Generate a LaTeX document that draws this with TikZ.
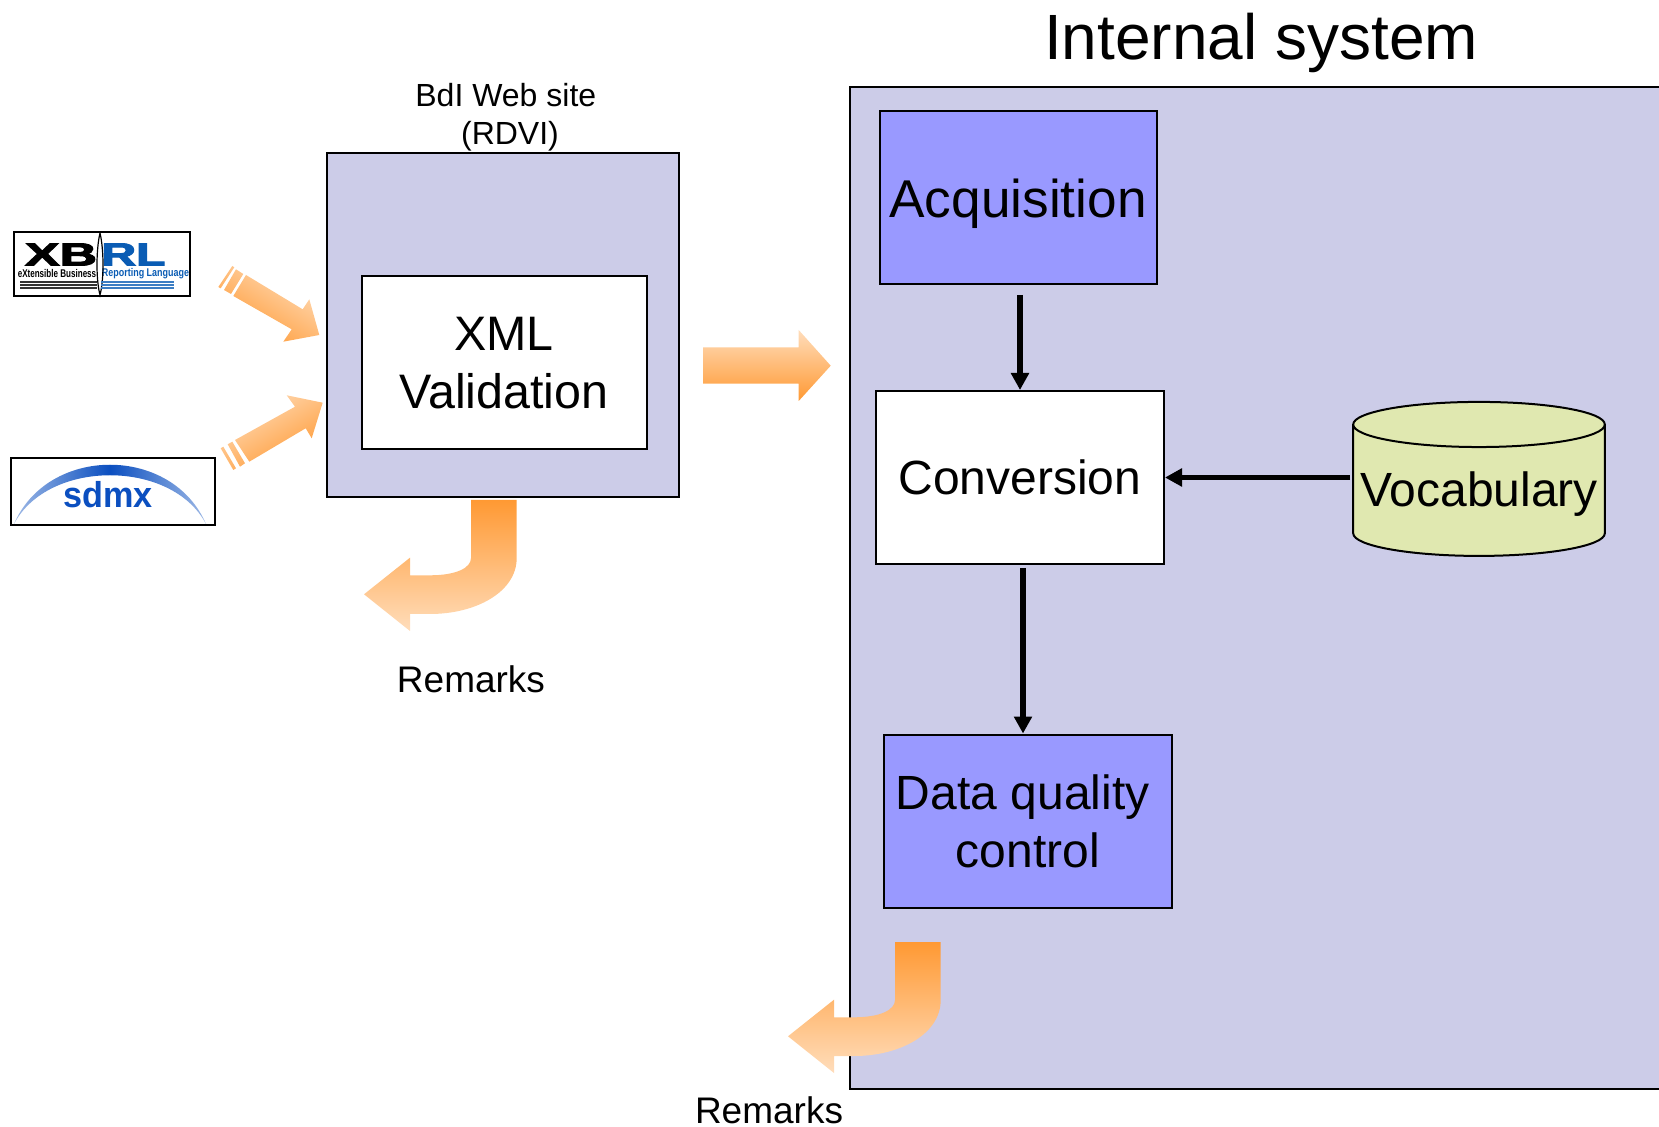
\documentclass[tikz,border=0pt]{standalone}
\usepackage{fontspec}
\setmainfont{Liberation Sans}
\newfontfamily\heavyfont[UprightFont=* Bold,FakeBold=3]{Liberation Sans}
\usetikzlibrary{positioning,shapes.geometric,arrows.meta}

\definecolor{panel}{HTML}{CCCCE8}
\definecolor{stage}{HTML}{9999FF}
\definecolor{store}{HTML}{E0E8B0}
\definecolor{glowdark}{HTML}{FF9933}
\definecolor{glowlight}{HTML}{FFDDBB}
\definecolor{xbrlblue}{HTML}{0A5CB4}
\definecolor{sdmxblue}{HTML}{0B4FC0}

\tikzset{
  box/.style={draw,line width=1pt,inner sep=0pt,align=center,minimum width=#1,minimum height=86.5pt,font=\fontsize{24}{29}\selectfont},
  flow/.style={-{Triangle[length=8.5pt,width=8.7pt]},line width=2.6pt},
  caption/.style={inner sep=0pt,align=center},
  remarkarrow/.pic={
    \shade[top color=glowdark,bottom color=glowlight]
      (0,0) -- (45.7,0) -- (45.7,58) .. controls (45.7,92) and (5,114) .. (-41,114)
      -- (-61,114) -- (-61,131) -- (-107,94.3) -- (-61,57.7) -- (-61,75.3) -- (-41,75.3)
      .. controls (-15,75.3) and (0,68) .. (0,58) -- cycle;
  }
}

\begin{document}
\begin{tikzpicture}[x=0.5pt,y=-0.5pt,on grid]
  \useasboundingbox (0,0) rectangle (1659,1127);

  % panels
  \node[draw,fill=panel,line width=1pt,minimum width=408pt,minimum height=501pt] (internal) at (1258,588) {};
  \node[draw,fill=panel,line width=1pt,minimum width=176pt,minimum height=172pt] (website) at (503,325) {};

  \node[caption,font=\fontsize{32}{38}\selectfont] (title) at (1261,43) {Internal system};
  \node[caption,font=\fontsize{16}{19}\selectfont] (sitename) at (510,117) {BdI Web site\kern 4.2pt\\ (RDVI)};

  % stages
  \node[box=142.5pt,fill=white,font=\fontsize{24.2}{29}\selectfont] (xml) [below=19pt of website,xshift=0.5pt] {XML\\Validation};
  \node[box=138.5pt,fill=stage,font=\fontsize{26.6}{32}\selectfont] (acq) at (1018,197.5) {\raisebox{-3.2pt}[\height][\depth]{Acquisition}};
  \node[box=144pt,fill=white] (conv) [below=140pt of acq,xshift=1pt] {Conversion};
  \node[box=144pt,fill=stage] (quality) [below=171.75pt of conv,xshift=4pt] {Data quality\kern 5.3pt\\control};
  \node[cylinder,draw,line width=1pt,shape border rotate=90,aspect=0.19,cylinder uses custom fill,
        cylinder body fill=store,cylinder end fill=store,inner sep=0pt,
        minimum width=125.8pt,minimum height=77pt,font=\fontsize{24}{29}\selectfont] (vocab)
        [right=229.5pt of conv,yshift=-6.6pt] {\raisebox{-1.9pt}[\height][\depth]{Vocabulary}};

  \draw[flow,shorten <=5pt] (conv.north |- acq.south) -- (conv.north);
  \draw[flow,shorten <=1pt] (vocab.west |- conv.east) -- (conv.east);
  \draw[flow,shorten <=1.5pt] ([xshift=1.5pt]conv.south) -- ([xshift=1.5pt]conv.south |- quality.north);

  % logos
  \node[draw,fill=white,line width=1pt,minimum width=88pt,minimum height=32pt] (xbrl) at (102,264) {};
  \node[draw,fill=white,line width=1pt,minimum width=102pt,minimum height=33.5pt] (sdmx) at (113,491.5) {};
  \node[inner sep=0pt,xscale=1.62,transform shape,font=\heavyfont\fontsize{16}{16}\selectfont] (xbrlx) at (61,254.5) {XB};
  \node[inner sep=0pt,xscale=1.5,transform shape,text=xbrlblue,font=\heavyfont\fontsize{16}{16}\selectfont] (xbrlr) at (133.5,254.5) {RL};
  \node[inner sep=0pt,xscale=0.72,transform shape,font=\bfseries\fontsize{5.6}{6}\selectfont] (xbrll) at (57,274) {eXtensible Business};
  \node[inner sep=0pt,xscale=0.8,transform shape,text=xbrlblue,font=\bfseries\fontsize{5.6}{6}\selectfont] (xbrlm) at (145.5,274) {Reporting Language};
  \draw[line width=0.6pt] (100,233) .. controls (96,250) and (96,280) .. (100,295) .. controls (104,280) and (104,250) .. (100,233);
  \foreach \y in {282,285,288} {
    \draw[black!80,line width=0.6pt] (20,\y) -- (97,\y);
    \draw[xbrlblue!80,line width=0.6pt] (101,\y) -- (174,\y);
  }
  \shade[left color=sdmxblue!40,right color=sdmxblue!40,middle color=sdmxblue]
    (14,524) .. controls (48,445) and (172,445) .. (206,524)
    .. controls (172,459) and (48,459) .. (14,524);
  \node[inner sep=0pt,text=sdmxblue,xscale=0.95,transform shape,font=\bfseries\fontsize{18}{18}\selectfont] (sdmxname) at (108,495) {sdmx};

  % block arrows
  \shade[top color=glowlight,bottom color=glowdark,shading angle=-32]
    (319.3,335) -- (309.3,299.3) -- (302.7,309.3) -- (246,275) -- (233.3,296) -- (291.7,329.3) -- (283.3,341.7) -- cycle
    (236,269.3) -- (243.3,274) -- (231,294) -- (224,290) -- cycle
    (232.3,266) -- (234.3,267.3) -- (220.7,288.3) -- (218.3,287) -- cycle;
  \shade[top color=glowlight,bottom color=glowdark,shading angle=30]
    (322.7,402.7) -- (286.7,395.3) -- (295,406.7) -- (235,440) -- (249.3,461.7) -- (305.7,428.3) -- (311.7,438.3) -- cycle
    (227.7,444.3) -- (232.3,441.7) -- (245,463.3) -- (240,466.7) -- cycle
    (220.7,448.3) -- (223.3,446.7) -- (236,468.3) -- (233.3,470) -- cycle;
  \shade[top color=glowlight,bottom color=glowdark]
    (703,347.3) -- (798.7,347.3) -- (798.7,330) -- (830.7,365.7) -- (798.7,401) -- (798.7,383.7) -- (703,383.7) -- cycle;
  \pic at (471,500) {remarkarrow};
  \pic at (895,942) {remarkarrow};

  \node[caption,font=\fontsize{18.5}{22}\selectfont] (remarksa) at (471,679) {Remarks};
  \node[caption,font=\fontsize{18.5}{22}\selectfont] (remarksb) at (769,1110) {Remarks};
\end{tikzpicture}
\end{document}
